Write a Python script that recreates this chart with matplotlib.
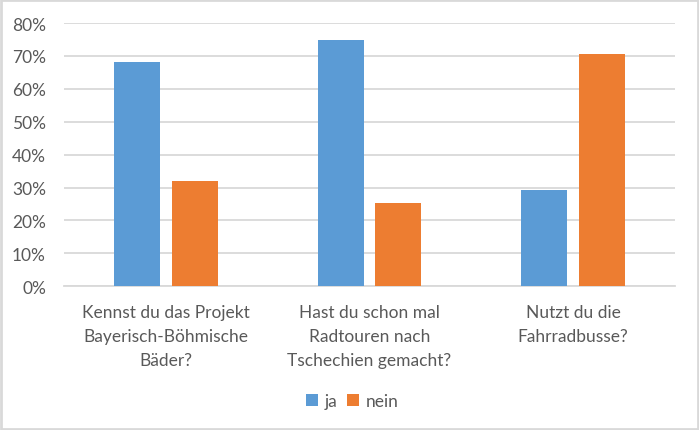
import matplotlib.pyplot as plt
import numpy as np
from matplotlib.patches import Rectangle

# Data
categories = ['Kennst du das Projekt\nBayerisch-Böhmische\nBäder?',
              'Hast du schon mal\nRadtouren nach\nTschechien gemacht?',
              'Nutzt du die\nFahrradbusse?']
ja = [68.2, 74.9, 29.3]
nein = [32.0, 25.3, 70.6]
series_names = ['ja', 'nein']
yticks = [0, 10, 20, 30, 40, 50, 60, 70, 80]

blue = '#5B9BD5'
orange = '#ED7D31'
grey_text = '#595959'
grid_col = '#D9D9D9'

plt.rcParams['font.family'] = ['Lato', 'DejaVu Sans']

fig = plt.figure(figsize=(6.99, 4.31), dpi=100)
ax = fig.add_axes([0.0916, 0.3334, 0.8741, 0.6109])

x = np.arange(len(categories))
w = 0.226
off = 0.142
ax.bar(x - off, ja, width=w, color=blue, label=series_names[0], zorder=3)
ax.bar(x + off, nein, width=w, color=orange, label=series_names[1], zorder=3)

ax.set_xlim(-0.5, len(categories) - 0.5)
ax.set_ylim(0, 80)
ax.set_yticks(yticks)
ax.set_yticklabels([f'{t}%' for t in yticks])
ax.yaxis.grid(True, color=grid_col, linewidth=1.3, zorder=0)
ax.set_axisbelow(True)

ax.set_xticks(x)
ax.set_xticklabels(categories, linespacing=1.6)
ax.tick_params(axis='x', length=0, pad=13, labelsize=12.5, labelcolor=grey_text)
ax.tick_params(axis='y', length=0, pad=13, labelsize=12.5, labelcolor=grey_text)

for s in ['top', 'right', 'left']:
    ax.spines[s].set_visible(False)
ax.spines['bottom'].set_color(grid_col)
ax.spines['bottom'].set_linewidth(1.3)

leg = fig.legend(loc='center', bbox_to_anchor=(0.504, 0.068), ncol=2, frameon=False,
                 handlelength=0.7, handleheight=0.7, handletextpad=0.4, columnspacing=0.5,
                 fontsize=12.5, labelcolor=grey_text)

# outer chart frame
fig.patches.append(Rectangle((0.001, 0.002), 0.997, 0.996, transform=fig.transFigure,
                             fill=False, edgecolor=grid_col, linewidth=2))

fig.savefig('out.png', dpi=100)
